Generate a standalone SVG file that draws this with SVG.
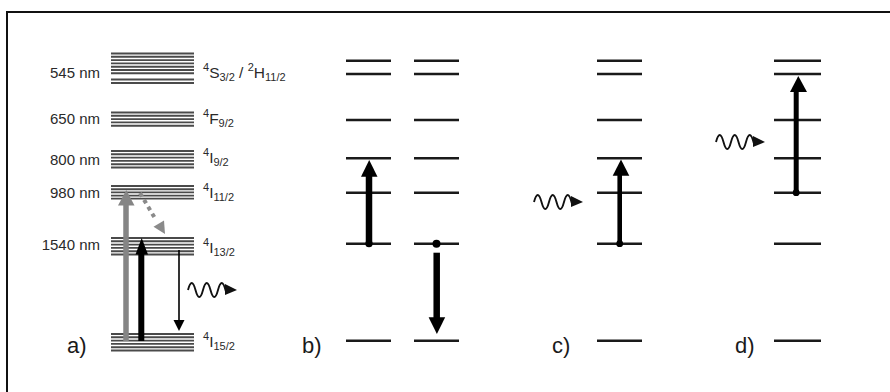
<svg xmlns="http://www.w3.org/2000/svg" width="890" height="392" viewBox="0 0 890 392">
<style>
.frame{stroke:#111;stroke-width:2;fill:none}
.band{stroke:#4a4a4a;stroke-width:1.9}
.lvl{stroke:#1a1a1a;stroke-width:2.6}
.nm{font-family:"Liberation Sans",Arial,sans-serif;font-size:15px;fill:#2a2a2a;text-anchor:end}
.term{font-family:"Liberation Sans",Arial,sans-serif;font-size:15.5px;fill:#2a2a2a;white-space:pre}
.sm{font-size:11px}
.pl{font-family:"Liberation Sans",Arial,sans-serif;font-size:22px;fill:#1a1a1a}
.wave{fill:none;stroke:#111;stroke-width:1.9}
</style>
<defs>
<g id="wave">
<path class="wave" d="M0,0 q3.7,-14 7.5,0 t7.5,0 t7.5,0 t7.5,0 t7.5,0 l2,-1"/>
<polygon points="37,-6 49,0 37,5" fill="#111"/>
</g>
</defs>
<path class="frame" d="M7,392 V12 H890"/>

<g id="panel-a">
<g id="band-545">
<path class="band" d="M111,53.5H194M111,56.8H194M111,60.1H194M111,63.4H194M111,66.7H194M111,70H194M111,73.3H194M111,79.5H194M111,83H194"/>
<text class="nm" x="100" y="78">545 nm</text>
<text class="term" x="203" y="77.5"><tspan class="sm" dy="-7">4</tspan><tspan dy="7">S</tspan><tspan class="sm" dy="3">3/2</tspan><tspan dy="-3"> / </tspan><tspan class="sm" dy="-7">2</tspan><tspan dy="7">H</tspan><tspan class="sm" dy="3">11/2</tspan></text>
</g>
<g id="band-650">
<path class="band" d="M111,112.5H194M111,115.8H194M111,119.1H194M111,122.4H194M111,125.7H194"/>
<text class="nm" x="100" y="124">650 nm</text>
<text class="term" x="203" y="123.5"><tspan class="sm" dy="-7">4</tspan><tspan dy="7">F</tspan><tspan class="sm" dy="3">9/2</tspan></text>
</g>
<g id="band-800">
<path class="band" d="M111,151H194M111,154.3H194M111,157.6H194M111,160.9H194M111,164.2H194M111,167.5H194"/>
<text class="nm" x="100" y="165">800 nm</text>
<text class="term" x="203" y="163"><tspan class="sm" dy="-7">4</tspan><tspan dy="7">I</tspan><tspan class="sm" dy="3">9/2</tspan></text>
</g>
<g id="band-980">
<path class="band" d="M111,186H194M111,189.2H194M111,192.4H194M111,195.6H194M111,198.6H194"/>
<text class="nm" x="100" y="198">980 nm</text>
<text class="term" x="203" y="198"><tspan class="sm" dy="-7">4</tspan><tspan dy="7">I</tspan><tspan class="sm" dy="3">11/2</tspan></text>
</g>
<g id="band-1540">
<path class="band" d="M111,238H194M111,241.3H194M111,244.6H194M111,247.9H194M111,251.2H194M111,254.5H194"/>
<text class="nm" x="100" y="250">1540 nm</text>
<text class="term" x="203" y="253"><tspan class="sm" dy="-7">4</tspan><tspan dy="7">I</tspan><tspan class="sm" dy="3">13/2</tspan></text>
</g>
<g id="band-ground">
<path class="band" d="M111,334H194M111,337.3H194M111,340.6H194M111,343.9H194M111,347.2H194M111,350.5H194"/>
<text class="term" x="203" y="347"><tspan class="sm" dy="-7">4</tspan><tspan dy="7">I</tspan><tspan class="sm" dy="3">15/2</tspan></text>
</g>
<text class="pl" x="67" y="353">a)</text>
</g>

<g id="panel-b">
<path class="lvl" d="M346,60.7H391M346,74H391M346,120H391M346,158.3H391M346,192.7H391M346,243.7H391M346,340.7H391"/>
<path class="lvl" d="M414,60.7H459M414,74H459M414,120H459M414,158.3H459M414,192.7H459M414,243.7H459M414,340.7H459"/>
<text class="pl" x="302" y="353">b)</text>
</g>

<g id="panel-c">
<path class="lvl" d="M597,60.7H642M597,74H642M597,120H642M597,158.3H642M597,192.7H642M597,243.7H642M597,340.7H642"/>
<text class="pl" x="552" y="353">c)</text>
</g>

<g id="panel-d">
<path class="lvl" d="M774,60.7H821M774,74H821M774,120H821M774,158.3H821M774,192.7H821M774,243.7H821M774,340.7H821"/>
<text class="pl" x="735" y="353">d)</text>
</g>

<g id="connectors">
<line x1="126" y1="341" x2="126" y2="204" stroke="#858585" stroke-width="5.5"/>
<polygon points="118,205.5 134.5,205.5 126.3,190" fill="#858585"/>
<line x1="141.3" y1="341" x2="141.3" y2="253" stroke="#000" stroke-width="6"/>
<polygon points="135.5,254.5 148,254.5 141.7,238" fill="#000"/>
<line x1="140" y1="193" x2="156" y2="220" stroke="#8a8a8a" stroke-width="4" stroke-dasharray="4 4"/>
<polygon points="153.5,226.8 164,220.4 165,234" fill="#8a8a8a"/>
<line x1="179" y1="250" x2="179" y2="321" stroke="#000" stroke-width="1.6"/>
<polygon points="173.5,320 184.5,320 179,331" fill="#000"/>
<use href="#wave" x="188" y="290"/>
<line x1="369" y1="243.7" x2="369" y2="175" stroke="#000" stroke-width="6.5"/>
<polygon points="361,176.7 377.5,176.7 369.2,160" fill="#000"/>
<circle cx="369" cy="243.7" r="3.6" fill="#000"/>
<circle cx="436.5" cy="243.7" r="4" fill="#000"/>
<line x1="436.7" y1="252.7" x2="436.7" y2="319" stroke="#000" stroke-width="6.5"/>
<polygon points="428.6,317.3 445.2,317.3 436.9,334" fill="#000"/>
<line x1="619.7" y1="243.7" x2="619.7" y2="174" stroke="#000" stroke-width="4.6"/>
<polygon points="612.7,175.7 629.3,175.7 621,159.5" fill="#000"/>
<circle cx="619.7" cy="243.7" r="3.4" fill="#000"/>
<use href="#wave" x="534" y="202"/>
<line x1="796.2" y1="192.7" x2="796.2" y2="90" stroke="#000" stroke-width="5"/>
<polygon points="790,92 807,92 798.3,76" fill="#000"/>
<circle cx="796.2" cy="192.7" r="3.4" fill="#000"/>
<use href="#wave" x="716" y="142"/>
</g>
</svg>
